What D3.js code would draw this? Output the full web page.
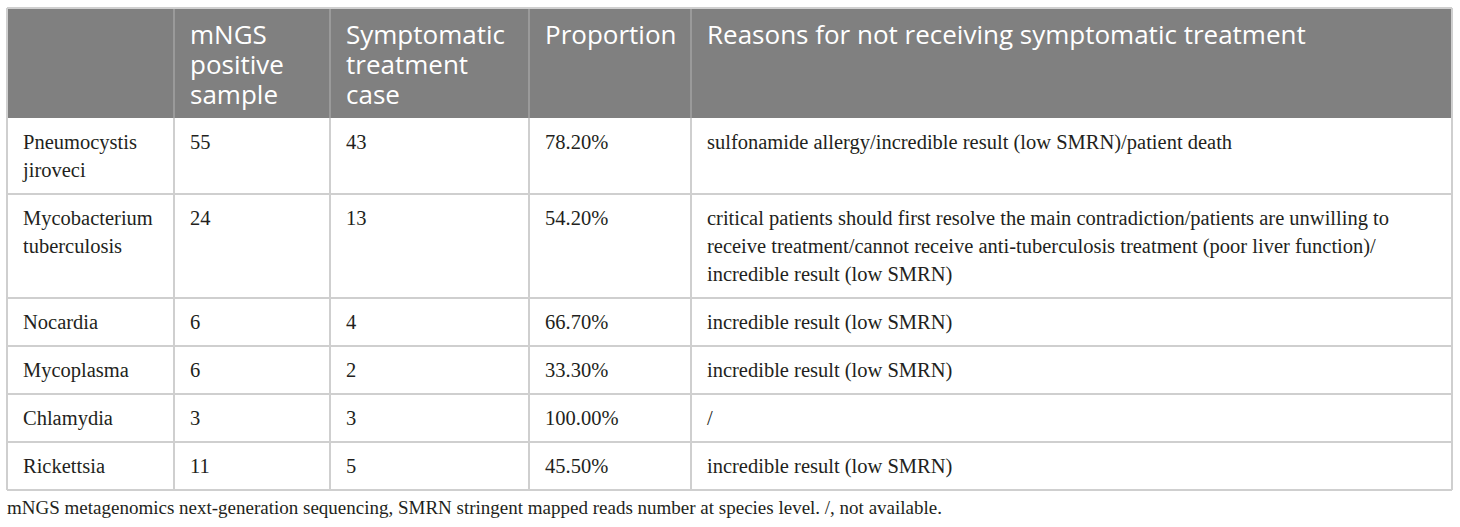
<!DOCTYPE html>
<meta charset="utf-8">
<html>
<head>
	<script src="https://cdn.jsdelivr.net/npm/d3@7"></script>
	<style>
		body { margin: 0; background: #fff; }
		.head { font-family: "Open Sans", "Noto Sans", sans-serif; fill: #fff; }
		.cell { font-family: "Liberation Serif", "DejaVu Serif", serif; fill: #231f20; }
		.note { font-family: "Liberation Serif", serif; fill: #231f20; }
	</style>
</head>
<body>
	<svg id="table" width="1460" height="527"></svg>

	<script>
	// table content
	var headers = ["", "mNGS positive sample", "Symptomatic treatment case", "Proportion", "Reasons for not receiving symptomatic treatment"];
	var pathogens = ["Pneumocystis jiroveci", "Mycobacterium tuberculosis", "Nocardia", "Mycoplasma", "Chlamydia", "Rickettsia"];
	var positive = [55, 24, 6, 6, 3, 11];
	var treated = [43, 13, 4, 2, 3, 5];
	var proportion = ["78.20%", "54.20%", "66.70%", "33.30%", "100.00%", "45.50%"];
	var reasons = [
		"sulfonamide allergy/incredible result (low SMRN)/patient death",
		"critical patients should first resolve the main contradiction/patients are unwilling to receive treatment/cannot receive anti-tuberculosis treatment (poor liver function)/ incredible result (low SMRN)",
		"incredible result (low SMRN)",
		"incredible result (low SMRN)",
		"/",
		"incredible result (low SMRN)"
	];
	var footnote = "mNGS metagenomics next-generation sequencing, SMRN stringent mapped reads number at species level. /, not available.";

	var colEdges = [7, 174, 330, 529, 691, 1452];
	var tableTop = 8;
	var padX = 16, padY = 10, padRight = 30;
	var headLine = 30, bodyLine = 28;
	var headSize = 26, bodySize = 20.5, noteSize = 19;

	var svg = d3.select("#table");

	var x = d3.scaleOrdinal()
		.domain(d3.range(colEdges.length))
		.range(colEdges);

	// wrap a string into lines that fit the width, using a hidden text node
	var probe = svg.append("text").attr("visibility", "hidden");
	function wrap(str, cls, size, width) {
		probe.attr("class", cls).style("font-size", size + "px");
		var words = String(str).split(" "), lines = [], cur = "";
		words.forEach(function(w) {
			var test = cur ? cur + " " + w : w;
			probe.text(test);
			if (cur && probe.node().getComputedTextLength() > width) {
				lines.push(cur);
				cur = w;
			} else {
				cur = test;
			}
		});
		if (cur) lines.push(cur);
		return lines;
	}

	// header
	var headLines = headers.map(function(h, i) {
		return h ? wrap(h, "head", headSize, colEdges[i + 1] - colEdges[i] - padX - 4) : [];
	});
	var headH = d3.max(headLines, function(l) { return l.length; }) * headLine + 2 * padY;

	// body rows
	var rows = pathogens.map(function(p, i) {
		return [p, positive[i], treated[i], proportion[i], reasons[i]];
	});
	var rowLines = rows.map(function(r) {
		return r.map(function(c, j) {
			return wrap(c, "cell", bodySize, colEdges[j + 1] - colEdges[j] - padX - padRight);
		});
	});
	var rowH = rowLines.map(function(r) {
		return d3.max(r, function(l) { return l.length; }) * bodyLine + 2 * padY;
	});
	var rowTop = [tableTop + headH];
	rowH.forEach(function(h, i) { rowTop.push(rowTop[i] + h); });
	var bottom = rowTop[rowTop.length - 1];

	var y = d3.scaleOrdinal()
		.domain(d3.range(rowTop.length))
		.range(rowTop);

	svg.append("rect")
		.attr("x", x(0)).attr("y", tableTop)
		.attr("width", x(5) - x(0)).attr("height", headH)
		.attr("fill", "#808080");

	var hg = svg.append("g");
	hg.selectAll("text")
		.data(headLines)
		.enter()
		.append("text")
			.attr("class", "head")
			.style("font-size", headSize + "px")
			.attr("x", function(d, i) { return x(i) + padX; })
			.attr("y", tableTop + padY)
			.selectAll("tspan")
			.data(function(d) { return d; })
			.enter()
			.append("tspan")
				.attr("x", function() { return d3.select(this.parentNode).attr("x"); })
				.attr("dy", function(d, k) { return k === 0 ? 26 : headLine; })
				.text(function(d) { return d; });

	// grid lines
	var grid = svg.append("g").attr("stroke-width", 1.3).attr("shape-rendering", "crispEdges");
	grid.selectAll(".hsep")
		.data(d3.range(1, 5))
		.enter()
		.append("line")
			.attr("stroke", "#9a9a9a")
			.attr("x1", function(d) { return x(d); }).attr("x2", function(d) { return x(d); })
			.attr("y1", tableTop).attr("y2", tableTop + headH);
	grid.selectAll(".vsep")
		.data(d3.range(0, 6))
		.enter()
		.append("line")
			.attr("stroke", "#cfcfcf")
			.attr("x1", function(d) { return x(d); }).attr("x2", function(d) { return x(d); })
			.attr("y1", tableTop + headH).attr("y2", bottom);
	grid.selectAll(".rsep")
		.data(d3.range(1, rowTop.length))
		.enter()
		.append("line")
			.attr("stroke", "#cfcfcf")
			.attr("x1", x(0)).attr("x2", x(5))
			.attr("y1", function(d) { return y(d); }).attr("y2", function(d) { return y(d); });
	grid.append("line")
		.attr("stroke", "#cfcfcf")
		.attr("x1", x(0)).attr("x2", x(5))
		.attr("y1", tableTop).attr("y2", tableTop);
	grid.append("line")
		.attr("stroke", "#cfcfcf")
		.attr("x1", x(0)).attr("x2", x(0))
		.attr("y1", tableTop).attr("y2", tableTop + headH);
	grid.append("line")
		.attr("stroke", "#cfcfcf")
		.attr("x1", x(5)).attr("x2", x(5))
		.attr("y1", tableTop).attr("y2", tableTop + headH);

	// body cells
	var rg = svg.append("g").selectAll("g")
		.data(rowLines)
		.enter()
		.append("g")
			.attr("transform", function(d, i) { return "translate(0," + y(i) + ")"; });

	rg.selectAll("text")
		.data(function(d) { return d; })
		.enter()
		.append("text")
			.attr("class", "cell")
			.style("font-size", bodySize + "px")
			.attr("x", function(d, j) { return x(j) + padX; })
			.attr("y", padY)
			.selectAll("tspan")
			.data(function(d) { return d; })
			.enter()
			.append("tspan")
				.attr("x", function() { return d3.select(this.parentNode).attr("x"); })
				.attr("dy", function(d, k) { return k === 0 ? 21 : bodyLine; })
				.text(function(d) { return d; });

	svg.append("text")
		.attr("class", "note")
		.style("font-size", noteSize + "px")
		.attr("x", x(0))
		.attr("y", bottom + 24)
		.text(footnote);

	probe.remove();
	</script>
</body>
</html>
